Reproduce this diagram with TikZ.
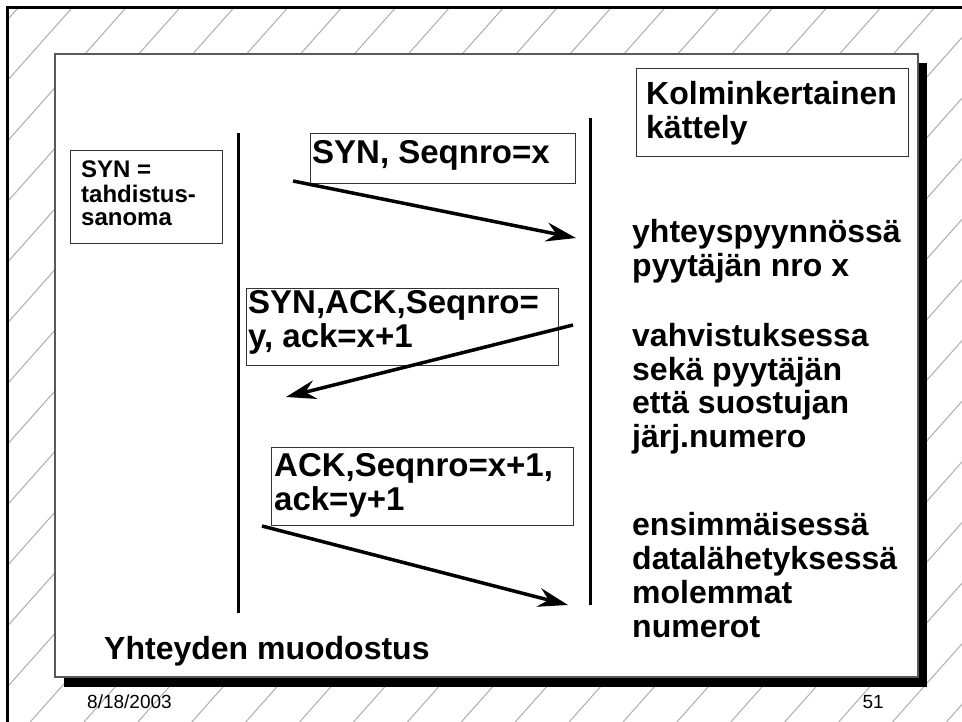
\documentclass[tikz,border=0pt]{standalone}
\usepackage{fontspec}
\setmainfont{Liberation Sans}
\usetikzlibrary{arrows.meta}
\newcommand\mylines[1]{\begin{tabular}[t]{@{}l@{}}#1\end{tabular}}
\tikzset{
  big/.style={font=\fontsize{32pt}{34pt}\selectfont\bfseries, inner sep=0pt, anchor=base west},
  msgtext/.style={font=\fontsize{33pt}{34pt}\selectfont\bfseries, inner sep=0pt, anchor=base west},
  small/.style={font=\fontsize{24pt}{23pt}\selectfont\bfseries, inner sep=0pt, anchor=base west},
  foot/.style={font=\fontsize{19pt}{20pt}\selectfont, inner sep=0pt},
  msgbox/.style={draw=black!80, line width=1pt, inner sep=0pt, anchor=north west},
  lifeline/.style={line width=3pt},
  msg/.style={line width=3.5pt, -{Stealth[length=30pt,width=19pt,inset=10pt]}},
  hatch/.style={draw=black!32, line width=1pt},
}
\begin{document}
\begin{tikzpicture}[x=1pt,y=-1pt]
\useasboundingbox (0,0) rectangle (962,722);
% background hatch
\begin{scope}
  \clip (7,7) rectangle (962,722);
  \foreach \k in {-1,...,29} {
    \pgfmathsetmacro\cc{79+53.9*\k}
    \draw[hatch] (\cc,0) -- ({\cc-641.8},722);
  }
\end{scope}
% frame
\draw[line width=2.5pt] (7.5,730) -- (7.5,7.5) -- (970,7.5);
% panel with shadow
\fill[black] (64,63) rectangle (927,687);
\filldraw[fill=white, draw=black!65, line width=1.3pt] (55,54) rectangle (918,677);
% boxes
\node[msgbox, minimum width=152pt, minimum height=93pt] (synbox) at (70,150) {};
\node[msgbox, minimum width=272pt, minimum height=88pt] (kbox) at (636,68) {};
\node[msgbox, minimum width=265pt, minimum height=50pt] (m1box) at (310,133) {};
\node[msgbox, minimum width=312pt, minimum height=77pt] (m2box) at (246,288) {};
\node[msgbox, minimum width=302pt, minimum height=78pt] (m3box) at (271,447) {};
% texts
\node[small] (syntxt) at (81,178) {\mylines{SYN =\\tahdistus-\\sanoma}};
\node[big] (ktxt) at (646,105) {\mylines{Kolminkertainen\\kättely}};
\node[msgtext] (m1txt) at (312,164) {SYN, Seqnro=x};
\node[msgtext] (m2txt) at (248,313) {\mylines{SYN,ACK,Seqnro=\\y, ack=x+1}};
\node[msgtext] (m3txt) at (274,476) {\mylines{ACK,Seqnro=x+1,\\ack=y+1}};
\node[big] (r1txt) at (632,243) {\mylines{yhteyspyynnössä\\pyytäjän nro x}};
\node[big] (r2txt) at (632,346) {\mylines{vahvistuksessa\\sekä pyytäjän\\että suostujan\\järj.numero}};
\node[big] (r3txt) at (632,535) {\mylines{ensimmäisessä\\datalähetyksessä\\molemmat\\numerot}};
\node[big] (title) at (104,659) {Yhteyden muodostus};
\node[foot, anchor=base west] (date) at (87,708) {8/18/2003};
\node[foot, anchor=base east] (page) at (884,708) {51};
% lifelines
\coordinate (lt) at (238,133);
\coordinate (lb) at (238,613);
\coordinate (rt) at (590,118);
\coordinate (rb) at (590,605);
\draw[lifeline] (lt) -- (lb);
\draw[lifeline] (rt) -- (rb);
% messages
\coordinate (a1s) at (293,181);
\coordinate (a1e) at (576,238);
\coordinate (a2s) at (573,325);
\coordinate (a2e) at (286,397);
\coordinate (a3s) at (262,526);
\coordinate (a3e) at (568,605);
\draw[msg] (a1s) -- (a1e);
\draw[msg] (a2s) -- (a2e);
\draw[msg] (a3s) -- (a3e);
\end{tikzpicture}
\end{document}
